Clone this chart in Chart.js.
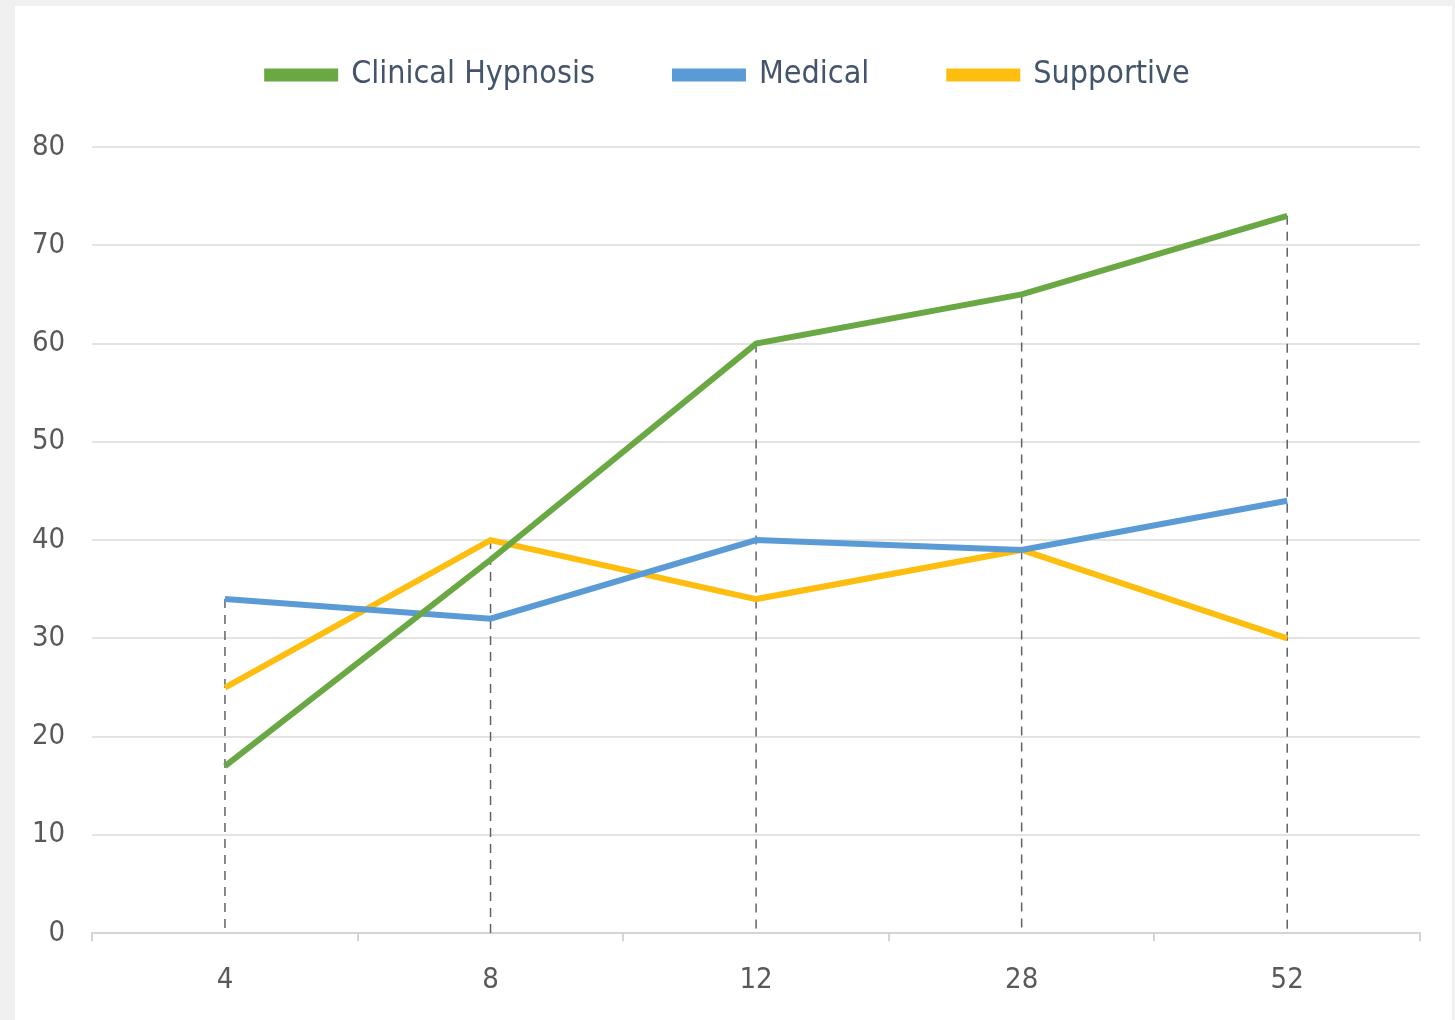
<!DOCTYPE html>
<html>
<head>
<meta charset="utf-8">
<script src="https://cdn.jsdelivr.net/npm/chart.js@4.4.1/dist/chart.umd.min.js"></script>
<style>
  html, body { margin: 0; padding: 0; background: #f0f0f0; }
  #wrap {
    position: absolute; left: 15px; top: 6px;
    width: 1437px; height: 1014px;
    background: #ffffff;
  }
</style>
</head>
<body>
<div id="wrap"><canvas id="lineChart"></canvas></div>
<script>
const weeks = ['4', '8', '12', '28', '52'];
const hypnosisValues = [17, 38, 60, 65, 73];
const medicalValues = [34, 32, 40, 39, 44];
const supportiveValues = [25, 40, 34, 39, 30];
const yTicks = [0, 10, 20, 30, 40, 50, 60, 70, 80];

const FONT = "'DejaVu Sans Condensed', 'Liberation Sans Narrow', sans-serif";

// dashed drop lines from the highest point of each category down to the axis
const dropLines = {
  id: 'dropLines',
  beforeDatasetsDraw(chart) {
    const { ctx, scales: { x, y } } = chart;
    ctx.save();
    ctx.strokeStyle = '#5a6470';
    ctx.lineWidth = 1.5;
    ctx.setLineDash([9, 7]);
    weeks.forEach((w, i) => {
      const top = Math.max(...chart.data.datasets.map(d => d.data[i]));
      const px = x.getPixelForValue(i);
      ctx.beginPath();
      ctx.moveTo(px, y.getPixelForValue(top));
      ctx.lineTo(px, y.getPixelForValue(0));
      ctx.stroke();
    });
    ctx.restore();
  }
};

// legend row needs more room below it than Chart.js gives,
// and sits a bit right of the canvas centre
const legendSpace = {
  id: 'legendSpace',
  beforeInit(chart) {
    const fit = chart.legend.fit;
    chart.legend.fit = function () {
      fit.bind(chart.legend)();
      this.height = 168;
    };
  },
  afterLayout(chart) {
    chart.legend.left += 16;
    chart.legend.right += 16;
  }
};

const makeSet = (label, data, color) => ({
  label: label,
  data: data,
  borderColor: color,
  backgroundColor: color,
  borderWidth: 6,
  pointRadius: 0,
  tension: 0,
  fill: false
});

new Chart(document.getElementById('lineChart'), {
  type: 'line',
  data: {
    labels: weeks,
    datasets: [
      makeSet('Clinical Hypnosis', hypnosisValues, '#6aa843'),
      makeSet('Medical', medicalValues, '#5b9bd5'),
      makeSet('Supportive', supportiveValues, '#fdbe10')
    ]
  },
  plugins: [dropLines, legendSpace],
  options: {
    responsive: true,
    maintainAspectRatio: false,
    animation: false,
    layout: { padding: { top: -27, right: 32, left: -10, bottom: 0 } },
    plugins: {
      legend: {
        position: 'top',
        labels: {
          boxWidth: 68,
          boxHeight: 7,
          padding: 80,
          color: '#44546a',
          font: { family: FONT, size: 32 }
        }
      },
      tooltip: { enabled: false }
    },
    scales: {
      x: {
        offset: true,
        border: { color: '#d4d4d4', width: 2 },
        grid: { display: true, offset: true, drawOnChartArea: false, tickLength: 8, color: '#d4d4d4', lineWidth: 2 },
        ticks: { color: '#595959', padding: 22, font: { family: FONT, size: 29 } }
      },
      y: {
        min: 0,
        max: 80,
        afterBuildTicks: axis => { axis.ticks = yTicks.map(v => ({ value: v })); },
        border: { display: false },
        grid: { color: '#e3e3e3', lineWidth: 2, drawTicks: false },
        ticks: { color: '#595959', padding: 27, font: { family: FONT, size: 29 } }
      }
    }
  }
});
</script>
</body>
</html>
